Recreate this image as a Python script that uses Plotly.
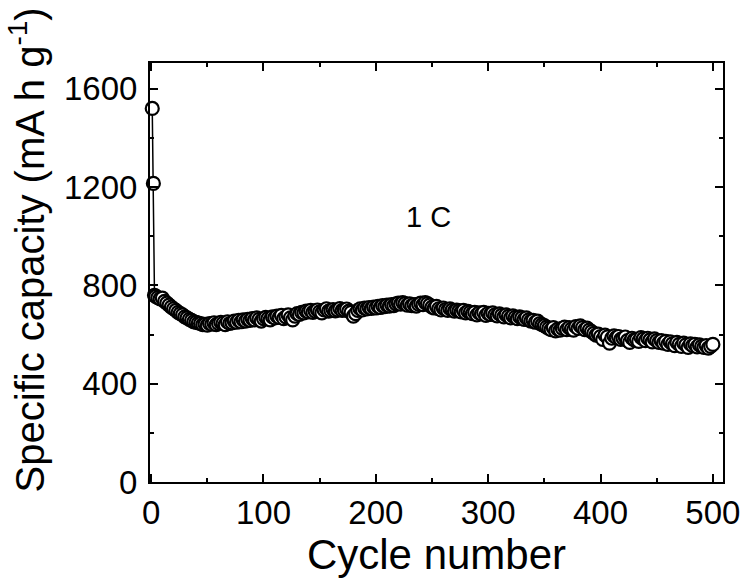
import plotly.graph_objects as go

# Cycle numbers (first three cycles, then every second cycle)
cycles = [1, 2, 3] + list(range(4, 501, 2))

# Specific capacity (mA h g-1)
capacity = [
    1520, 1215, 760,
    755, 750, 745, 748,
    735, 728, 720, 712, 705,
    698, 690, 685, 680, 672,
    668, 662, 658, 652, 650,
    647, 645, 640, 642, 638,
    645, 642, 648, 640, 645,
    650, 646, 640, 652, 645,
    648, 655, 650, 658, 652,
    660, 655, 662, 658, 665,
    660, 668, 662, 655, 665,
    670, 665, 660, 672, 668,
    675, 670, 678, 665, 672,
    680, 668, 660, 675, 685,
    682, 690, 688, 695, 692,
    698, 690, 695, 700, 692,
    688, 700, 705, 695, 698,
    702, 696, 700, 706, 698,
    700, 704, 695, 690, 675,
    685, 698, 705, 700, 708,
    704, 710, 706, 712, 708,
    715, 710, 718, 714, 720,
    716, 722, 718, 725, 728,
    724, 730, 726, 720, 725,
    718, 722, 716, 724, 728,
    722, 730, 726, 720, 712,
    708, 715, 705, 700, 708,
    702, 698, 705, 700, 695,
    700, 696, 692, 698, 688,
    694, 690, 685, 690, 680,
    688, 684, 690, 678, 686,
    682, 688, 680, 676, 684,
    678, 672, 680, 674, 668,
    676, 670, 665, 672, 668,
    662, 668, 660, 655, 658,
    650, 655, 645, 640, 636,
    630, 625, 620, 628, 615,
    622, 618, 625, 630, 620,
    628, 622, 618, 632, 625,
    635, 628, 620, 626, 618,
    612, 605, 598, 602, 592,
    580, 598, 590, 565, 585,
    595, 588, 592, 580, 585,
    590, 575, 568, 585, 578,
    580, 572, 588, 582, 575,
    585, 578, 570, 582, 575,
    568, 575, 565, 572, 560,
    570, 562, 555, 568, 560,
    552, 565, 558, 548, 562,
    555, 560, 550, 558, 552,
    548, 555, 545, 552, 560,
]

FONT = "Liberation Sans, Arial, sans-serif"

fig = go.Figure()
fig.add_trace(go.Scatter(
    x=cycles, y=capacity, mode="lines+markers",
    line=dict(color="black", width=1.5),
    marker=dict(symbol="circle", size=13, color="white",
                line=dict(color="black", width=2.2)),
    showlegend=False, cliponaxis=False,
))

axis_common = dict(
    showline=True, linecolor="black", linewidth=2, mirror="ticks",
    ticks="inside", ticklen=8, tickwidth=2, tickcolor="black",
    showgrid=False, zeroline=False,
    tickfont=dict(family=FONT, size=33, color="black"),
)

fig.update_xaxes(
    range=[-1, 509], tickvals=[0, 100, 200, 300, 400, 500],
    minor=dict(tickvals=[50, 150, 250, 350, 450], ticks="inside",
               ticklen=4, tickwidth=2, tickcolor="black"),
    title=dict(text="Cycle number", font=dict(family=FONT, size=42, color="black"), standoff=6),
    **axis_common,
)
fig.update_yaxes(
    range=[0, 1705], tickvals=[0, 400, 800, 1200, 1600],
    minor=dict(tickvals=[200, 600, 1000, 1400], ticks="inside",
               ticklen=4, tickwidth=2, tickcolor="black"),
    ticklabelstandoff=4,
    **axis_common,
)

fig.add_annotation(
    text="Specific capacity (mA h g<sup>-1</sup>)", textangle=-90,
    xref="paper", yref="paper", x=-0.213, y=0.555,
    xanchor="center", yanchor="middle",
    showarrow=False, font=dict(family=FONT, size=40, color="black"),
)
fig.add_annotation(
    text="1 C", xref="x", yref="y", x=247, y=1078, showarrow=False,
    font=dict(family=FONT, size=29, color="black"),
)

fig.update_layout(
    width=753, height=578,
    margin=dict(l=150, r=30, t=63, b=90),
    paper_bgcolor="white", plot_bgcolor="white",
)

fig.write_html("out.html")
